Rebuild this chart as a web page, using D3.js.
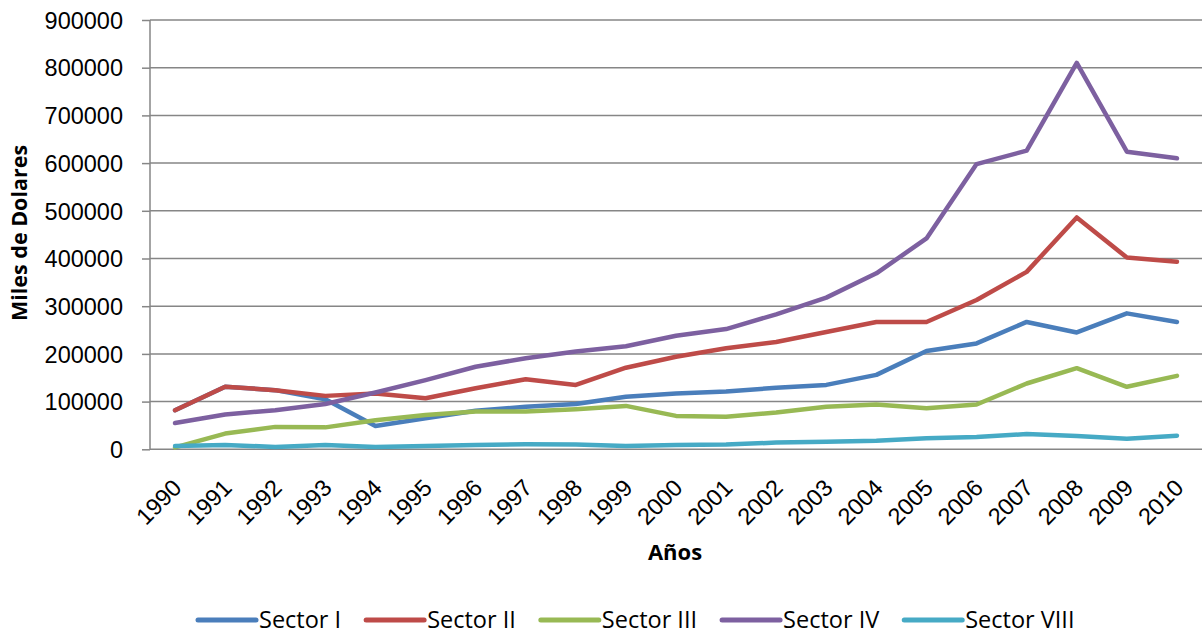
<!DOCTYPE html>
<html>
<head>
<meta charset="utf-8">
<script src="https://cdn.jsdelivr.net/npm/d3@7"></script>
<style>
  html, body { margin: 0; padding: 0; background: #fff; }
  svg { display: block; font-family: "Open Sans", sans-serif; }
</style>
</head>
<body>
<svg id="chart" width="1202" height="635"></svg>
<script>
const years = ["1990","1991","1992","1993","1994","1995","1996","1997","1998","1999","2000","2001","2002","2003","2004","2005","2006","2007","2008","2009","2010"];
const sectorI    = [82000,131000,124000,105000,49000,65000,81000,89000,95000,110000,117000,121000,129000,135000,156000,206000,222000,267000,245000,285000,267000];
const sectorII   = [82000,131000,124000,112000,117000,107000,128000,147000,135000,171000,194000,212000,225000,246000,267000,267000,313000,372000,486000,402000,393000];
const sectorIII  = [4000,33000,47000,46000,61000,72000,79000,79000,84000,91000,70000,68000,77000,89000,94000,86000,94000,138000,170000,131000,154000];
const sectorIV   = [55000,73000,82000,95000,119000,145000,173000,191000,205000,216000,238000,252000,283000,318000,369000,442000,598000,626000,810000,624000,610000];
const sectorVIII = [7000,9000,5000,9000,5000,7000,9000,10500,10000,7000,9000,10000,14000,16000,18000,23000,26000,32000,28000,22000,28500];
const seriesNames = ["Sector I","Sector II","Sector III","Sector IV","Sector VIII"];
const seriesColors = ["#4A7EBB","#BE4B48","#98B954","#7D60A0","#46AAC5"];
const yTicks = [0,100000,200000,300000,400000,500000,600000,700000,800000,900000];

const seriesValues = [sectorI, sectorII, sectorIII, sectorIV, sectorVIII];

const svg = d3.select("#chart");
const pLeft = 150, pRight = 1202, pTop = 20, pBottom = 449.3;

const x = d3.scaleBand().domain(years).range([pLeft, pRight]).padding(0);
const y = d3.scaleLinear().domain([0, 900000]).range([pBottom, pTop]);

// y axis ticks + labels
const yAxis = d3.axisLeft(y).tickValues(yTicks).tickSize(8).tickFormat(d3.format("d"));
const gy = svg.append("g").attr("transform", `translate(${pLeft},0)`).call(yAxis);
gy.select(".domain").remove();
gy.selectAll(".tick line").attr("stroke", "#868686").attr("stroke-width", 1.5);
gy.selectAll(".tick text").attr("x", -27).attr("font-size", 23.5).attr("fill", "#000").attr("dy", "0.35em");

// gridlines
svg.append("g").selectAll("line").data(yTicks).join("line")
  .attr("x1", pLeft).attr("x2", pRight)
  .attr("y1", d => y(d)).attr("y2", d => y(d))
  .attr("stroke", "#868686").attr("stroke-width", 1.5);

// left axis line
svg.append("line").attr("x1", pLeft).attr("x2", pLeft).attr("y1", pTop).attr("y2", pBottom)
  .attr("stroke", "#868686").attr("stroke-width", 1.5);

// x axis labels
const xAxis = d3.axisBottom(x).tickSize(0);
const gx = svg.append("g").attr("transform", `translate(0,${pBottom})`).call(xAxis);
gx.select(".domain").remove();
gx.selectAll(".tick text")
  .attr("font-size", 23.5).attr("fill", "#000")
  .attr("text-anchor", "end")
  .attr("y", 0).attr("dy", 0)
  .attr("transform", "translate(8,40) rotate(-45)");

// lines
const line = d3.line().x((d, i) => x(years[i]) + x.bandwidth() / 2).y(d => y(d));
seriesValues.forEach((vals, k) => {
  svg.append("path").datum(vals)
    .attr("fill", "none")
    .attr("stroke", seriesColors[k])
    .attr("stroke-width", 4.5)
    .attr("stroke-linejoin", "round")
    .attr("stroke-linecap", "round")
    .attr("d", line);
});

// axis titles
svg.append("text")
  .attr("transform", "translate(27,233) rotate(-90)")
  .attr("text-anchor", "middle")
  .attr("font-size", 21.5).attr("font-weight", "bold")
  .text("Miles de Dolares");

svg.append("text")
  .attr("x", 675).attr("y", 560)
  .attr("text-anchor", "middle")
  .attr("font-size", 22).attr("font-weight", "bold")
  .text("Años");

// legend
const legend = svg.append("g");
let lx = 198;
const ly = 620;
seriesNames.forEach((name, k) => {
  legend.append("line")
    .attr("x1", lx).attr("x2", lx + 58).attr("y1", ly).attr("y2", ly)
    .attr("stroke", seriesColors[k]).attr("stroke-width", 5).attr("stroke-linecap", "round");
  const t = legend.append("text")
    .attr("x", lx + 61).attr("y", ly).attr("dy", "0.35em")
    .attr("font-size", 23.5).attr("fill", "#000")
    .text(name);
  lx += 61 + t.node().getComputedTextLength() + 25;
});
</script>
</body>
</html>
